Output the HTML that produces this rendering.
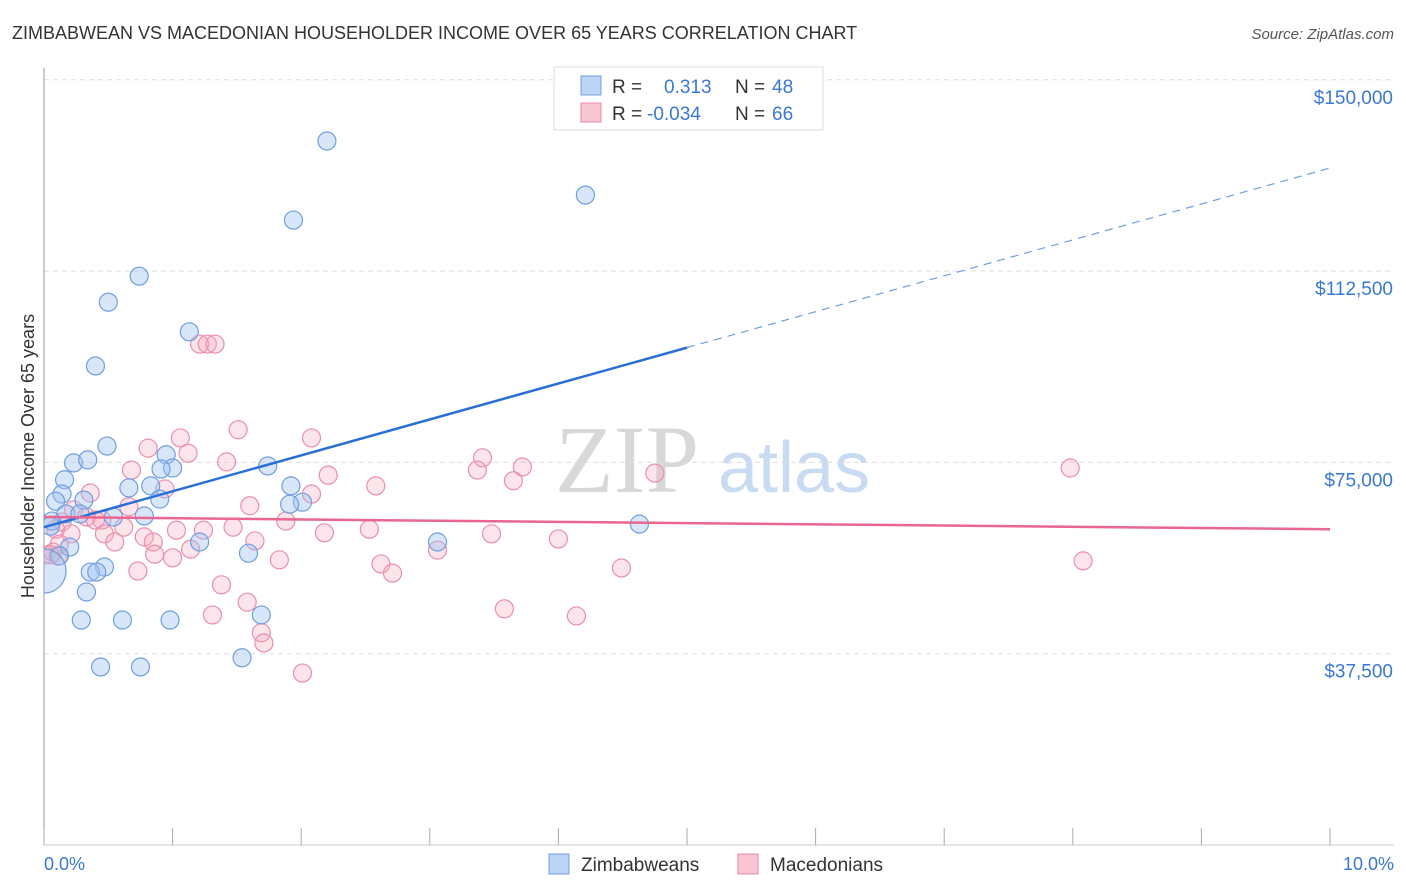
<!DOCTYPE html>
<html><head><meta charset="utf-8"><style>
body{margin:0;background:#fff;font-family:"Liberation Sans",sans-serif;}
svg{display:block}
</style></head><body>
<svg id="c" width="1406" height="892" xmlns="http://www.w3.org/2000/svg">
<defs><clipPath id="plot"><rect x="44" y="60" width="1360" height="785"/></clipPath></defs>
<text x="12" y="39" font-size="18" fill="#333">ZIMBABWEAN VS MACEDONIAN HOUSEHOLDER INCOME OVER 65 YEARS CORRELATION CHART</text>
<text x="1394" y="39" font-size="15" fill="#555" font-style="italic" text-anchor="end">Source: ZipAtlas.com</text>
<text x="555" y="492" font-size="96" fill="#d8d8d8" font-family="Liberation Serif,serif">ZIP</text>
<text x="718" y="492" font-size="72" fill="#c9dbf3">atlas</text>
<g id="grid"></g><g id="axes"></g><g id="pts" clip-path="url(#plot)"></g><g id="trend"></g>
<text transform="translate(34,456) rotate(-90)" font-size="18" fill="#333" text-anchor="middle">Householder Income Over 65 years</text>
<text x="44" y="870" font-size="18" fill="#3a78d8">0.0%</text>
<text x="1394" y="870" font-size="18" fill="#3a78d8" text-anchor="end">10.0%</text>
<g>
<rect x="554" y="67" width="269" height="63" fill="#fff" stroke="#ddd"/>
<rect x="581" y="76" width="20" height="19" fill="#bcd4f5" stroke="#6f9fe0"/>
<rect x="581" y="103" width="20" height="19" fill="#f9c6d4" stroke="#e88aa5"/>
<text x="612" y="93" font-size="19" fill="#333">R = </text><text x="664" y="93" font-size="19" fill="#3a78d8">0.313</text>
<text x="735" y="93" font-size="19" fill="#333">N = </text><text x="772" y="93" font-size="19" fill="#3a78d8">48</text>
<text x="612" y="120" font-size="19" fill="#333">R = </text><text x="647" y="120" font-size="19" fill="#3a78d8">-0.034</text>
<text x="735" y="120" font-size="19" fill="#333">N = </text><text x="772" y="120" font-size="19" fill="#3a78d8">66</text>
</g>
<g><rect x="549" y="854" width="20" height="20" fill="#bcd4f5" stroke="#6f9fe0"/><text x="581" y="871" font-size="19" fill="#333">Zimbabweans</text></g>
<g><rect x="738" y="854" width="20" height="20" fill="#f9c6d4" stroke="#e88aa5"/><text x="770" y="871" font-size="19" fill="#333">Macedonians</text></g>
</svg>
<script>
const yTicks=[37500,75000,112500,150000];
const yTickLabels=["$37,500","$75,000","$112,500","$150,000"];
const xTicks=[0,1,2,3,4,5,6,7,8,9,10];
const blueX=[2.20,4.21,1.94,0.74,0.50,1.13,0.40,0.49,0.23,0.34,1.74,0.95,1.00,0.91,0.16,0.14,0.09,0.31,0.66,0.83,0.90,1.92,2.01,1.91,0.78,0.06,0.17,0.28,0.54,0.05,4.63,1.21,3.06,0.20,0.12,1.59,0.47,0.36,0.41,0.33,0.29,0.61,0.98,1.69,0.44,0.75,1.54,0];
const blueY=[138000,127400,122500,111500,106400,100600,93900,78200,74900,75500,74300,76500,73900,73700,71600,68800,67400,67600,70000,70400,67800,70400,67200,66800,64500,63500,64900,64900,64300,62500,62900,59400,59400,58400,56700,57200,54500,53500,53500,49600,44100,44100,44100,45100,34900,34900,36700,53700];
const pinkX=[1.21,1.27,1.33,1.51,2.08,1.06,0.81,1.12,1.42,0.68,3.41,3.37,3.72,3.65,4.75,7.98,2.21,2.58,0.94,0.36,2.08,1.60,0.66,0.23,0.33,0.45,0.40,0.62,0.14,0.09,1.88,1.47,1.24,1.03,2.53,0.21,0.47,2.18,3.48,0.78,0.55,1.64,4.00,0.85,0.12,0.86,1.14,3.06,1.00,1.83,0,0.07,2.62,2.71,0.73,8.08,4.49,1.38,3.58,1.31,4.14,1.58,1.69,1.71,2.01,0.11,0.05];
const pinkY=[98200,98200,98200,81400,79800,79800,77800,76800,75100,73500,75900,73500,74100,71400,72900,73900,72500,70400,69800,69000,68800,66500,66300,65700,64300,63700,63700,62300,63300,61900,63500,62300,61700,61700,61900,61000,61000,61200,61000,60400,59400,59600,60000,59400,59000,57000,58000,57800,56300,55900,56800,57400,55100,53300,53700,55700,54300,51000,46300,45100,44900,47600,41600,39600,33700,56600,56900];
const blueTrend=[62300,132700];
const pinkTrend=[64300,61900];
const X=v=>44+v*128.6, Y=v=>845-v*191.3/37500;
const NS="http://www.w3.org/2000/svg";
function mk(p,t,a){const e=document.createElementNS(NS,t);for(const k in a)e.setAttribute(k,a[k]);p.appendChild(e);return e;}
const grid=document.getElementById('grid'),axes=document.getElementById('axes'),pts=document.getElementById('pts'),tr=document.getElementById('trend');
yTicks.forEach((v,i)=>{
 const l=mk(grid,'line',{x1:44,x2:1394,y1:Y(v),y2:Y(v),stroke:'#ddd','stroke-dasharray':'5,4'});
 
 
 const t=mk(grid,'text',{x:1393,y:Y(v)+24,'font-size':19,fill:'#3a78d8','text-anchor':'end'});t.textContent=yTickLabels[i];
 
 
});
const ax=mk(axes,'line',{x1:44,x2:44,y1:68,y2:845,stroke:'#999'});


const bx=mk(axes,'line',{x1:44,x2:1394,y1:845,y2:845,stroke:'#ccc'});


xTicks.forEach(v=>{const t=mk(axes,'line',{x1:X(v),x2:X(v),y1:828,y2:845,stroke:'#aaa'});
 
 });
pinkX.forEach((x,i)=>{const c=mk(pts,'circle',{cx:X(x),cy:Y(pinkY[i]),r:9,fill:'rgba(245,165,190,0.3)',stroke:'#ea8fab','stroke-width':1.2});
 
 });
blueX.forEach((x,i)=>{const c=mk(pts,'circle',{cx:X(x),cy:Y(blueY[i]),r:i==blueX.length-1?22:9,fill:'rgba(160,195,240,0.42)',stroke:'#6f9fe0','stroke-width':1.2});
 
 });
const bm=blueTrend[0]+(blueTrend[1]-blueTrend[0])*0.5;
const b1=mk(tr,'line',{x1:X(0),y1:Y(blueTrend[0]),x2:X(5),y2:Y(bm),stroke:'#2a6fd6','stroke-width':2.5});


const b2=mk(tr,'line',{x1:X(5),y1:Y(bm),x2:X(10),y2:Y(blueTrend[1]),stroke:'#6f9fe0','stroke-width':1.2,'stroke-dasharray':'8,6'});


const p1=mk(tr,'line',{x1:X(0),y1:Y(pinkTrend[0]),x2:X(10),y2:Y(pinkTrend[1]),stroke:'#e8668f','stroke-width':2.5});


</script>
</body></html>
